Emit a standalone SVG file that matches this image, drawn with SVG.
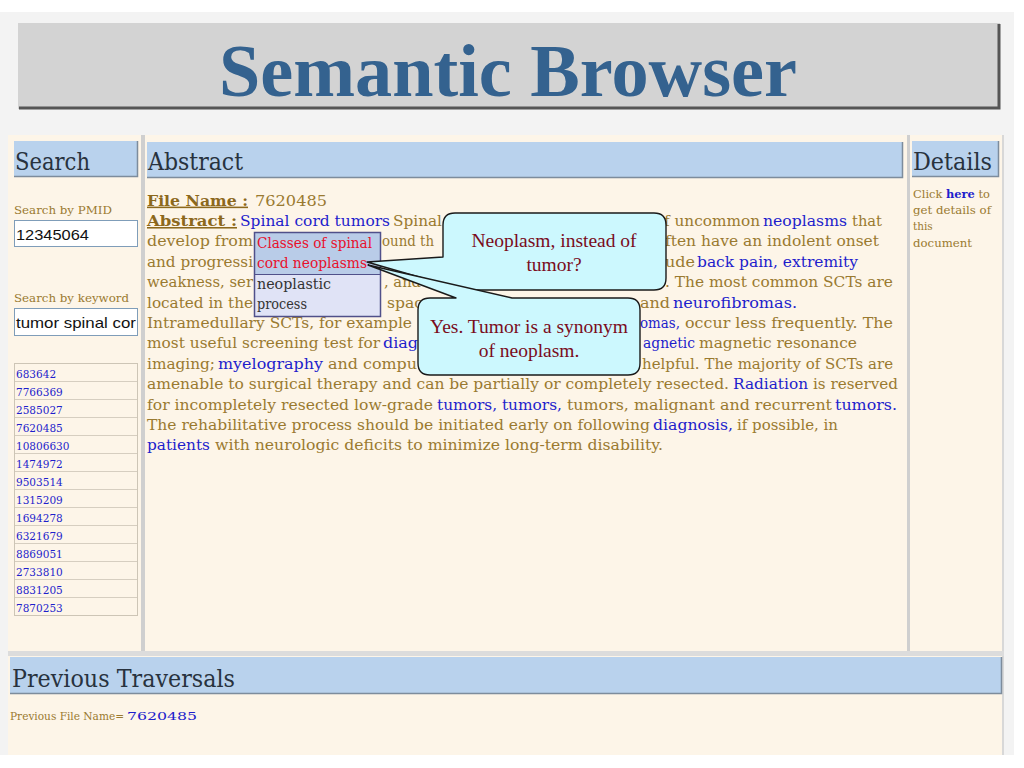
<svg xmlns="http://www.w3.org/2000/svg" width="1024" height="768" viewBox="0 0 1024 768">
<style>
.t{font-family:"DejaVu Serif","Liberation Serif",serif;font-size:15.5px}
.b{fill:#9a7a30}
.u{fill:#1e1ecc}
.lab{font-weight:bold;text-decoration:underline;fill:#8c681c}
.h{font-family:"DejaVu Serif","Liberation Serif",serif;font-size:24px;fill:#28323e}
.s{font-family:"DejaVu Serif","Liberation Serif",serif;font-size:10.5px}
.n{font-family:"DejaVu Serif","Liberation Serif",serif;font-size:10.5px;fill:#1e1ecc}
.in{font-family:"Liberation Sans",Arial,sans-serif;font-size:15px;fill:#111}
.co{font-family:"Liberation Serif","Times New Roman",serif;font-size:19.5px;fill:#7a0c1c;text-anchor:middle}
.pp{font-family:"DejaVu Serif","Liberation Serif",serif;font-size:14px}
.hd{fill:#b9d2ed}
.hs{fill:none;stroke:#7d8c9c;stroke-width:1.5}
.cl{fill:#ccf8fe;stroke:#1a1a1a;stroke-width:1.4;stroke-linejoin:round}
.box{fill:#fff;stroke:#7f9db9;stroke-width:1}
.row{stroke:#d6cec0;stroke-width:1}
</style>
<rect x="0" y="0" width="1024" height="768" fill="#ffffff"/>
<rect x="0" y="12" width="1014" height="743" fill="#f3f3f3"/>

<g id="header">
<rect x="18" y="23" width="982" height="86" fill="#d3d3d3"/>
<polyline points="999,24 999,108 19,108" fill="none" stroke="#555" stroke-width="3"/>
<text x="508" y="96" text-anchor="middle" font-family="Liberation Serif,'Times New Roman',serif" font-weight="bold" font-size="74" fill="#34628f" textLength="578" lengthAdjust="spacingAndGlyphs">Semantic Browser</text>
</g>

<g id="panels">
<rect x="8" y="135" width="996" height="516" fill="#fdf5e8"/>
<rect x="8" y="656" width="996" height="99" fill="#fdf5e8"/>
<rect x="8" y="651" width="996" height="5" fill="#dcdcdc"/>
<rect x="141" y="135" width="4" height="516" fill="#cfcfcf"/>
<rect x="907" y="135" width="3" height="516" fill="#cfcfcf"/>
<rect x="1002" y="135" width="2" height="516" fill="#d8d8d8"/>
<rect x="1002" y="656" width="2" height="99" fill="#d8d8d8"/>
</g>

<g id="search-panel">
<rect class="hd" x="14" y="141" width="124" height="36"/>
<polyline class="hs" points="137.5,141 137.5,176.5 14,176.5"/>
<text class="h" x="15" y="170" textLength="75" lengthAdjust="spacingAndGlyphs">Search</text>
<text class="s b" x="14" y="214" textLength="98" lengthAdjust="spacingAndGlyphs">Search by PMID</text>
<rect class="box" x="14.5" y="220.5" width="123" height="26"/>
<text class="in" x="16" y="240" textLength="73" lengthAdjust="spacingAndGlyphs">12345064</text>
<text class="s b" x="14" y="302" textLength="115" lengthAdjust="spacingAndGlyphs">Search by keyword</text>
<rect class="box" x="14.5" y="308.5" width="123" height="27"/>
<text class="in" x="16" y="328" textLength="120" lengthAdjust="spacingAndGlyphs">tumor spinal cor</text>
</g>

<g id="pmid-list">
<rect x="14.5" y="363.5" width="123" height="252" fill="none" stroke="#cdc5b6"/>
<g class="row">
<line x1="15" y1="381.5" x2="137" y2="381.5"/><line x1="15" y1="399.5" x2="137" y2="399.5"/>
<line x1="15" y1="417.5" x2="137" y2="417.5"/><line x1="15" y1="435.5" x2="137" y2="435.5"/>
<line x1="15" y1="453.5" x2="137" y2="453.5"/><line x1="15" y1="471.5" x2="137" y2="471.5"/>
<line x1="15" y1="489.5" x2="137" y2="489.5"/><line x1="15" y1="507.5" x2="137" y2="507.5"/>
<line x1="15" y1="525.5" x2="137" y2="525.5"/><line x1="15" y1="543.5" x2="137" y2="543.5"/>
<line x1="15" y1="561.5" x2="137" y2="561.5"/><line x1="15" y1="579.5" x2="137" y2="579.5"/>
<line x1="15" y1="597.5" x2="137" y2="597.5"/>
</g>
<text class="n" x="16" y="377.5">683642</text>
<text class="n" x="16" y="395.5">7766369</text>
<text class="n" x="16" y="413.5">2585027</text>
<text class="n" x="16" y="431.5">7620485</text>
<text class="n" x="16" y="449.5">10806630</text>
<text class="n" x="16" y="467.5">1474972</text>
<text class="n" x="16" y="485.5">9503514</text>
<text class="n" x="16" y="503.5">1315209</text>
<text class="n" x="16" y="521.5">1694278</text>
<text class="n" x="16" y="539.5">6321679</text>
<text class="n" x="16" y="557.5">8869051</text>
<text class="n" x="16" y="575.5">2733810</text>
<text class="n" x="16" y="593.5">8831205</text>
<text class="n" x="16" y="611.5">7870253</text>
</g>

<g id="abstract-panel">
<rect class="hd" x="147" y="142" width="756" height="36"/>
<polyline class="hs" points="902.5,142 902.5,177.5 147,177.5"/>
<text class="h" x="148" y="170" textLength="95" lengthAdjust="spacingAndGlyphs">Abstract</text>
<g class="t">
<text class="lab" x="147" y="205.6" textLength="101" lengthAdjust="spacingAndGlyphs">File Name :</text>
<text class="b" x="255" y="205.6" textLength="72" lengthAdjust="spacingAndGlyphs">7620485</text>

<text class="lab" x="147" y="226" textLength="90" lengthAdjust="spacingAndGlyphs">Abstract :</text>
<text class="u" x="240" y="226" textLength="150" lengthAdjust="spacingAndGlyphs">Spinal cord tumors</text>
<text class="b" x="393" y="226" textLength="49" lengthAdjust="spacingAndGlyphs">Spinal</text>
<text class="b" x="664" y="226" textLength="96" lengthAdjust="spacingAndGlyphs">f uncommon</text>
<text class="u" x="763" y="226" textLength="84" lengthAdjust="spacingAndGlyphs">neoplasms</text>
<text class="b" x="852" y="226" textLength="30" lengthAdjust="spacingAndGlyphs">that</text>

<text class="b" x="147" y="246.4" textLength="106" lengthAdjust="spacingAndGlyphs">develop from</text>
<text class="b" x="382" y="246.4" textLength="52" lengthAdjust="spacingAndGlyphs">ound th</text>
<text class="b" x="665" y="246.4" textLength="214" lengthAdjust="spacingAndGlyphs">ften have an indolent onset</text>

<text class="b" x="147" y="266.8" textLength="106" lengthAdjust="spacingAndGlyphs">and progressi</text>
<text class="b" x="665" y="266.8" textLength="30" lengthAdjust="spacingAndGlyphs">ude</text>
<text class="u" x="697" y="266.8" textLength="161" lengthAdjust="spacingAndGlyphs">back pain, extremity</text>

<text class="b" x="147" y="287.2" textLength="106" lengthAdjust="spacingAndGlyphs">weakness, ser</text>
<text class="b" x="384" y="287.2" textLength="60" lengthAdjust="spacingAndGlyphs">, and bo</text>
<text class="b" x="665" y="287.2" textLength="228" lengthAdjust="spacingAndGlyphs">. The most common SCTs are</text>

<text class="b" x="147" y="307.6" textLength="106" lengthAdjust="spacingAndGlyphs">located in the</text>
<text class="b" x="387" y="307.6" textLength="36" lengthAdjust="spacingAndGlyphs">spac</text>
<text class="b" x="640" y="307.6" textLength="30" lengthAdjust="spacingAndGlyphs">and</text>
<text class="u" x="673" y="307.6" textLength="124" lengthAdjust="spacingAndGlyphs">neurofibromas.</text>

<text class="b" x="147" y="328" textLength="265" lengthAdjust="spacingAndGlyphs">Intramedullary SCTs, for example</text>
<text class="u" x="640" y="328" textLength="40" lengthAdjust="spacingAndGlyphs">omas,</text>
<text class="b" x="685" y="328" textLength="208" lengthAdjust="spacingAndGlyphs">occur less frequently. The</text>

<text class="b" x="147" y="348.4" textLength="233" lengthAdjust="spacingAndGlyphs">most useful screening test for</text>
<text class="u" x="383" y="348.4" textLength="35" lengthAdjust="spacingAndGlyphs">diag</text>
<text class="u" x="643" y="348.4" textLength="52" lengthAdjust="spacingAndGlyphs">agnetic</text>
<text class="b" x="699" y="348.4" textLength="158" lengthAdjust="spacingAndGlyphs">magnetic resonance</text>

<text class="b" x="147" y="368.8" textLength="68" lengthAdjust="spacingAndGlyphs">imaging;</text>
<text class="u" x="218" y="368.8" textLength="105" lengthAdjust="spacingAndGlyphs">myelography</text>
<text class="b" x="328" y="368.8" textLength="89" lengthAdjust="spacingAndGlyphs">and compu</text>
<text class="b" x="642" y="368.8" textLength="251" lengthAdjust="spacingAndGlyphs">helpful. The majority of SCTs are</text>

<text class="b" x="147" y="389.2" textLength="582" lengthAdjust="spacingAndGlyphs">amenable to surgical therapy and can be partially or completely resected.</text>
<text class="u" x="733" y="389.2" textLength="75" lengthAdjust="spacingAndGlyphs">Radiation</text>
<text class="b" x="813" y="389.2" textLength="85" lengthAdjust="spacingAndGlyphs">is reserved</text>

<text class="b" x="147" y="409.6" textLength="286" lengthAdjust="spacingAndGlyphs">for incompletely resected low-grade</text>
<text class="u" x="437" y="409.6" textLength="125" lengthAdjust="spacingAndGlyphs">tumors, tumors,</text>
<text class="b" x="567" y="409.6" textLength="265" lengthAdjust="spacingAndGlyphs">tumors, malignant and recurrent</text>
<text class="u" x="835" y="409.6" textLength="62" lengthAdjust="spacingAndGlyphs">tumors.</text>

<text class="b" x="147" y="430" textLength="503" lengthAdjust="spacingAndGlyphs">The rehabilitative process should be initiated early on following</text>
<text class="u" x="653" y="430" textLength="80" lengthAdjust="spacingAndGlyphs">diagnosis,</text>
<text class="b" x="737" y="430" textLength="101" lengthAdjust="spacingAndGlyphs">if possible, in</text>

<text class="u" x="147" y="450.4" textLength="63" lengthAdjust="spacingAndGlyphs">patients</text>
<text class="b" x="215" y="450.4" textLength="448" lengthAdjust="spacingAndGlyphs">with neurologic deficits to minimize long-term disability.</text>
</g>
</g>

<g id="details-panel">
<rect class="hd" x="912" y="141" width="87" height="36"/>
<polyline class="hs" points="998.5,141 998.5,176.5 912,176.5"/>
<text class="h" x="913" y="170" textLength="79" lengthAdjust="spacingAndGlyphs">Details</text>
<text class="s" x="913" y="198" textLength="77" lengthAdjust="spacingAndGlyphs"><tspan class="b">Click </tspan><tspan class="u" font-weight="bold">here</tspan><tspan class="b"> to</tspan></text>
<text class="s b" x="913" y="214" textLength="78" lengthAdjust="spacingAndGlyphs">get details of</text>
<text class="s b" x="913" y="230">this</text>
<text class="s b" x="913" y="247" textLength="59" lengthAdjust="spacingAndGlyphs">document</text>
</g>

<g id="traversals">
<rect class="hd" x="10" y="657" width="992" height="37"/>
<polyline class="hs" points="1001.5,657 1001.5,693.5 10,693.5"/>
<text class="h" x="12" y="687" textLength="223" lengthAdjust="spacingAndGlyphs">Previous Traversals</text>
<text class="s b" x="10" y="720" textLength="114" lengthAdjust="spacingAndGlyphs">Previous File Name=</text>
<text class="s u" x="127" y="720" textLength="70" lengthAdjust="spacingAndGlyphs">7620485</text>
</g>

<g id="popup">
<rect x="254.5" y="232.5" width="126" height="42" fill="#b9cce8"/>
<rect x="254.5" y="274.5" width="126" height="42" fill="#e0e3f6"/>
<line x1="254.5" y1="274.5" x2="380.5" y2="274.5" stroke="#50508a" stroke-width="1.2"/>
<rect x="254.5" y="232.5" width="126" height="84" fill="none" stroke="#50508a" stroke-width="1.5"/>
<text class="pp" x="257" y="248" fill="#e8102c" textLength="115" lengthAdjust="spacingAndGlyphs">Classes of spinal</text>
<text class="pp" x="257" y="268" fill="#e8102c" textLength="110" lengthAdjust="spacingAndGlyphs">cord neoplasms</text>
<text class="pp" x="257" y="289" fill="#333" textLength="74" lengthAdjust="spacingAndGlyphs">neoplastic</text>
<text class="pp" x="257" y="309" fill="#333" textLength="50" lengthAdjust="spacingAndGlyphs">process</text>
</g>

<g id="connectors">
<path id="callout1-shape" class="cl" d="M455,213 H654 Q666,213 666,225 V278 Q666,290 654,290 H455 Q443,290 443,284 L367,262 L443,257 V225 Q443,213 455,213 Z"/>
<path id="callout2-shape" class="cl" d="M430,298 H456 L368,265 L512,298 H628 Q640,298 640,310 V363 Q640,375 628,375 H430 Q418,375 418,363 V310 Q418,298 430,298 Z"/>
</g>

<g id="callout1">
<text class="co" x="554" y="247">Neoplasm, instead of</text>
<text class="co" x="554" y="271">tumor?</text>
</g>
<g id="callout2">
<text class="co" x="529" y="333">Yes. Tumor is a synonym</text>
<text class="co" x="529" y="357">of neoplasm.</text>
</g>
</svg>
